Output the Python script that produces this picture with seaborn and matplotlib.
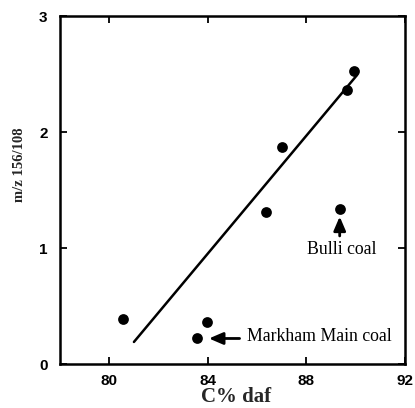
import matplotlib
matplotlib.use("Agg")
import matplotlib.pyplot as plt
import seaborn as sns
import pandas as pd

# ---- data ----
carbon = [80.55, 83.55, 83.95, 86.35, 87.0, 89.35, 89.65, 89.95]
ratio = [0.39, 0.22, 0.36, 1.31, 1.87, 1.34, 2.36, 2.53]
fit_x = [81.0, 90.05]
fit_y = [0.19, 2.49]
x_ticks = [80, 84, 88, 92]
y_ticks = [0, 1, 2, 3]
x_label = "C% daf"
y_label = "m/z 156/108"
ann_markham = ("Markham Main coal", 83.55, 0.22)
ann_bulli = ("Bulli coal", 89.35, 1.34)

pts = pd.DataFrame({"C": carbon, "R": ratio})
fit = pd.DataFrame({"C": fit_x, "R": fit_y})

sns.set_theme(style="ticks")
plt.rcParams["font.family"] = ["Liberation Sans", "DejaVu Sans"]

fig = plt.figure(figsize=(4.15, 4.08), dpi=100)
ax = fig.add_axes([60 / 415, 44 / 408, 345 / 415, 348 / 408])

sns.lineplot(data=fit, x="C", y="R", ax=ax, color="black", linewidth=1.8,
             estimator=None, sort=False)
sns.scatterplot(data=pts, x="C", y="R", ax=ax, color="black", s=60,
                edgecolor="black", linewidth=0, zorder=3)

ax.set_xlim(78, 92)
ax.set_ylim(0, 3)
ax.set_xticks(x_ticks)
ax.set_yticks(y_ticks)
ax.set_xticklabels([str(t) for t in x_ticks], fontsize=11, fontweight="bold")
ax.set_yticklabels([str(t) for t in y_ticks], fontsize=11, fontweight="bold")
ax.tick_params(direction="in", top=True, right=True, length=5, width=1.3,
               pad=9, colors="black")
ax.tick_params(axis="x", pad=7)

for s in ax.spines.values():
    s.set_visible(True)
    s.set_linewidth(1.8)
    s.set_color("black")

serif = ["Liberation Serif", "DejaVu Serif"]
ax.set_xlabel(x_label, family=serif, fontsize=15, fontweight="bold",
              va="center")
ax.xaxis.set_label_coords(0.51, -0.094)
ax.set_ylabel(y_label, family=serif, fontsize=10.5, fontweight="bold",
              va="center")
ax.yaxis.set_label_coords(-0.116, 0.572)

# Markham Main coal annotation (arrow pointing left to the point)
name, px, py = ann_markham
ax.annotate("", xy=(px + 0.38, py), xytext=(px + 1.85, py),
            arrowprops=dict(arrowstyle="-|>,head_length=0.7,head_width=0.3",
                            color="black", lw=2.0))
ax.text(px + 2.05, py + 0.02, name, family=serif, fontsize=12.8,
        ha="left", va="center", color="black")

# Bulli coal annotation (arrow pointing up to the point)
name, px, py = ann_bulli
ax.annotate("", xy=(px, py - 0.045), xytext=(px, py - 0.26),
            arrowprops=dict(arrowstyle="-|>,head_length=0.7,head_width=0.3",
                            color="black", lw=2.0))
ax.text(px + 0.07, py - 0.355, name, family=serif, fontsize=12.8,
        ha="center", va="center", color="black")

fig.savefig("out.png", dpi=100, facecolor="white")
